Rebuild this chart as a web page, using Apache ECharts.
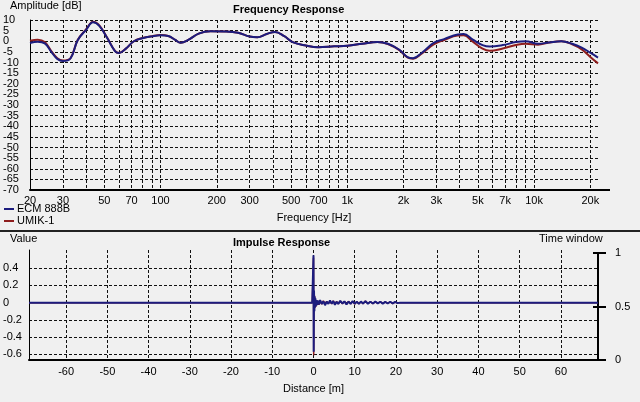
<!DOCTYPE html>
<html><head><meta charset="utf-8">
<script src="https://cdn.jsdelivr.net/npm/echarts@6/dist/echarts.min.js"></script>
<style>html,body{margin:0;padding:0;background:#f0f0f0}#c{width:640px;height:402px}</style>
</head><body><div id="c"></div>
<script>
// ---- Frequency response data ----
const freqHz = [20,22,24,26,28,30,33,36,40,43.5,47,52,57,60,65,72,80,90,100,110,120,128,140,160,185,220,260,300,330,370,410,460,510,600,700,850,1000,1200,1450,1650,1900,2100,2250,2500,2900,3300,3900,4200,4700,5300,5800,6800,8000,9000,10500,12000,14000,16000,18000,20000,22000];
const ecmDb  = [-0.8,-0.2,-1.0,-5.0,-8.3,-9.3,-8.0,0.5,5.5,8.9,7.2,1.3,-4.6,-5.5,-3.6,0,1.4,2.3,2.8,2.5,0.6,-0.7,0.5,3.6,4.7,4.6,4.0,2.2,1.9,3.4,4.4,2.4,-0.4,-2.0,-2.8,-2.4,-2.1,-1.2,-0.3,-1.2,-4.0,-7.5,-8.0,-5.5,-0.8,1.0,3.2,3.4,0.8,-1.8,-2.5,-1.8,-0.4,0,-1.2,-0.6,0,-1.2,-3.0,-5.4,-7.7];
const umikDb = [0.2,0.7,-0.4,-4.6,-8.0,-9.1,-7.9,0.6,5.7,9.2,7.5,1.4,-4.5,-5.5,-3.6,0,1.5,2.4,2.9,2.5,0.6,-0.7,0.5,3.6,4.7,4.6,4.0,2.2,1.9,3.4,4.4,2.4,-0.4,-2.0,-2.8,-2.4,-2.1,-1.2,-0.3,-1.3,-4.2,-7.6,-8.2,-5.8,-1.5,0.6,2.7,2.8,-0.2,-3.5,-4.5,-3.4,-1.8,-1.2,-1.6,-0.6,0,-1.4,-3.8,-7.4,-10.4];
const freqGridHz = [20,30,40,50,60,70,80,90,100,200,300,400,500,600,700,800,900,1000,2000,3000,4000,5000,6000,7000,8000,9000,10000,20000];
const freqTickHz = [20,30,50,70,100,200,300,500,700,1000,2000,3000,5000,7000,10000,20000];
const freqTickLabels = ['20','30','50','70','100','200','300','500','700','1k','2k','3k','5k','7k','10k','20k'];
const freqMinHz = 20, freqMaxHz = 22000;
const dbMin = -70, dbMax = 10, dbStep = 5;
const dbLabelsA = [10,0,-10,-20,-30,-40,-50,-60,-70];
const dbLabelsB = [5,-5,-15,-25,-35,-45,-55,-65];

// ---- Impulse response data ----
const impDist = [-69,-0.3,-0.1,0,0.05,0.12,0.2,0.28,0.36,0.45,0.55,0.7,0.85,1.0,1.3,1.6,2.0,2.4,2.8,3.2,3.6,4.0,4.4,4.8,5.2,5.6,6.0,6.5,7.0,7.5,8.0,8.5,9.0,9.5,10.0,10.5,11.0,11.5,12.0,12.6,13.2,13.8,14.4,15.0,15.6,16.2,16.8,17.4,18.0,18.6,19.2,19.8,20.4,21,22.8,23,23.2,69];
const ecmImp  = [0,0,0.01,0.55,-0.57,0.14,-0.1,0.07,-0.06,0.05,-0.04,0.03,-0.03,0.025,-0.02,0.03,-0.015,0.015,-0.03,0.012,-0.015,0.025,-0.012,0.018,-0.025,0.01,-0.015,0.02,-0.01,0.015,-0.022,0.012,-0.015,0.018,-0.012,0.01,-0.015,0.012,-0.01,0.015,-0.012,0.01,-0.01,0.012,-0.008,0.01,-0.012,0.008,-0.01,0.01,-0.008,0.008,-0.006,0,0,0.015,0,0];
const umikImp = [0,0,0.008,0.52,-0.61,0.12,-0.09,0.08,-0.05,0.04,-0.05,0.03,-0.025,0.02,-0.025,0.018,-0.018,0.02,-0.015,0.015,-0.012,0.016,-0.015,0.02,-0.016,0.012,-0.012,0.018,-0.014,0.012,-0.016,0.015,-0.012,0.014,-0.015,0.012,-0.012,0.01,-0.012,0.018,-0.01,0.012,-0.012,0.01,-0.01,0.012,-0.01,0.01,-0.008,0.008,-0.01,0.006,-0.005,0,0,0.012,0,0];
const distTicks = [-60,-50,-40,-30,-20,-10,0,10,20,30,40,50,60];
const distMin = -69, distMax = 69;
const valueTicks = [-0.6,-0.4,-0.2,0,0.2,0.4];
const valueMin = -0.665, valueMax = 0.61;
const windowTicks = [0,0.5,1];

const BLUE = '#1c1c7e', RED = '#8e1d1d';
const FONT = 'Liberation Sans';
const txt = {color:'#000', fontFamily:FONT, fontSize:11};
const dash = {color:'#111', type:[3,2], width:1};

const lg = v => Math.log10(v);
const fLabel = v => {
  let best = 0, d = 1e9;
  freqTickHz.forEach((f,i)=>{const dd=Math.abs(lg(f)-v); if(dd<d){d=dd;best=i;}});
  return freqTickLabels[best];
};
const ttl = (text,left,top,bold) => ({text, left, top, padding:0,
  textStyle:Object.assign({fontWeight:bold?'bold':'normal'},txt)});

const chart = echarts.init(document.getElementById('c'));
chart.setOption({
  backgroundColor:'#f0f0f0',
  animation:false,
  textStyle:{fontFamily:FONT},
  title:[
    ttl('Amplitude [dB]',10,0,false),
    ttl('Frequency Response',233,4,true),
    ttl('Value',10,233,false),
    ttl('Impulse Response',233,237,true),
    ttl('Time window',539,233,false)
  ],
  legend:{
    orient:'vertical', left:4, top:203, itemGap:0, itemWidth:10, itemHeight:2, padding:0,
    icon:'rect', textStyle:Object.assign({padding:[0,0,0,-2], lineHeight:12},txt),
    data:[{name:'ECM 888B', itemStyle:{color:BLUE}},{name:'UMIK-1', itemStyle:{color:RED}}]
  },
  grid:[
    {left:29, top:20, right:42, bottom:212},
    {left:29, top:250, right:42, bottom:42},
    {left:29, top:253, right:42, bottom:42},
    {left:29, top:253, right:42, bottom:42},
    {left:29, top:20, right:42, bottom:212}
  ],
  xAxis:[
    {type:'value', gridIndex:0, min:lg(freqMinHz), max:lg(freqMaxHz),
     name:'Frequency [Hz]', nameLocation:'middle', nameGap:22, nameTextStyle:txt,
     axisLine:{show:true, onZero:false, lineStyle:{color:'#000', width:2}},
     axisTick:{show:false, customValues:freqGridHz.map(lg)},
     axisLabel:Object.assign({customValues:freqTickHz.map(lg), formatter:fLabel, margin:5, showMinLabel:true, showMaxLabel:true},txt),
     splitLine:{show:true, lineStyle:dash}},
    {type:'value', gridIndex:1, min:distMin, max:distMax,
     name:'Distance [m]', nameLocation:'middle', nameGap:23, nameTextStyle:txt,
     axisLine:{show:true, onZero:false, lineStyle:{color:'#000', width:2}},
     axisTick:{show:false, customValues:distTicks},
     axisLabel:Object.assign({customValues:distTicks, margin:6},txt),
     splitLine:{show:true, lineStyle:dash}},
    {type:'value', gridIndex:2, min:0, max:1, show:false},
    {type:'value', gridIndex:3, min:0, max:1, show:false},
    {type:'value', gridIndex:4, min:lg(freqMinHz), max:lg(freqMaxHz), show:false}
  ],
  yAxis:[
    {type:'value', gridIndex:0, min:dbMin, max:dbMax, interval:dbStep,
     axisLine:{show:true, onZero:false, lineStyle:{color:'#000', width:1}},
     axisTick:{show:false},
     axisLabel:Object.assign({align:'left', margin:27, customValues:dbLabelsA, showMinLabel:true, showMaxLabel:true},txt),
     splitLine:{show:true, showMinLine:true, showMaxLine:true, lineStyle:dash}},
    {type:'value', gridIndex:1, min:valueMin, max:valueMax,
     axisLine:{show:true, onZero:false, lineStyle:{color:'#000', width:1}},
     axisTick:{show:false, customValues:valueTicks},
     axisLabel:Object.assign({align:'left', margin:26, customValues:valueTicks,
       formatter:v=>String(Math.round(v*10)/10)},txt),
     splitLine:{show:true, lineStyle:dash}},
    {type:'value', gridIndex:2, position:'right', min:0, max:1,
     axisLine:{show:true, onZero:false, lineStyle:{color:'#000', width:2}},
     axisTick:{show:true, length:8, customValues:windowTicks, lineStyle:{color:'#000', width:2}},
     axisLabel:Object.assign({align:'left', margin:17, customValues:windowTicks, showMinLabel:true, showMaxLabel:true},txt),
     splitLine:{show:false}},
    {type:'value', gridIndex:3, position:'right', min:0, max:1,
     axisLine:{show:false, onZero:false},
     axisTick:{show:true, inside:true, length:5, customValues:windowTicks, lineStyle:{color:'#000', width:2}},
     axisLabel:{show:false}, splitLine:{show:false}},
    {type:'value', gridIndex:4, position:'left', min:dbMin, max:dbMax,
     axisLine:{show:false, onZero:false}, axisTick:{show:false}, splitLine:{show:false},
     axisLabel:Object.assign({align:'left', margin:27, customValues:dbLabelsB, showMinLabel:true, showMaxLabel:true},txt)}
  ],
  series:[
    {name:'UMIK-1', type:'line', xAxisIndex:0, yAxisIndex:0, smooth:0.4, symbol:'none',
     lineStyle:{color:RED, width:2}, itemStyle:{color:RED},
     data:freqHz.map((f,i)=>[lg(f), umikDb[i]])},
    {name:'ECM 888B', type:'line', xAxisIndex:0, yAxisIndex:0, smooth:0.4, symbol:'none',
     lineStyle:{color:BLUE, width:2}, itemStyle:{color:BLUE},
     data:freqHz.map((f,i)=>[lg(f), ecmDb[i]])},
    {name:'UMIK-1', type:'line', xAxisIndex:1, yAxisIndex:1, symbol:'none',
     lineStyle:{color:RED, width:1.5},
     data:impDist.map((d,i)=>[d, umikImp[i]])},
    {name:'ECM 888B', type:'line', xAxisIndex:1, yAxisIndex:1, symbol:'none',
     lineStyle:{color:BLUE, width:2},
     data:impDist.map((d,i)=>[d, ecmImp[i]])}
  ],
  graphic:[
    {type:'line', shape:{x1:0,y1:231,x2:640,y2:231}, style:{stroke:'#222', lineWidth:2}},
    {type:'line', shape:{x1:598,y1:190,x2:610,y2:190}, style:{stroke:'#000', lineWidth:2}}
  ]
});
</script></body></html>
